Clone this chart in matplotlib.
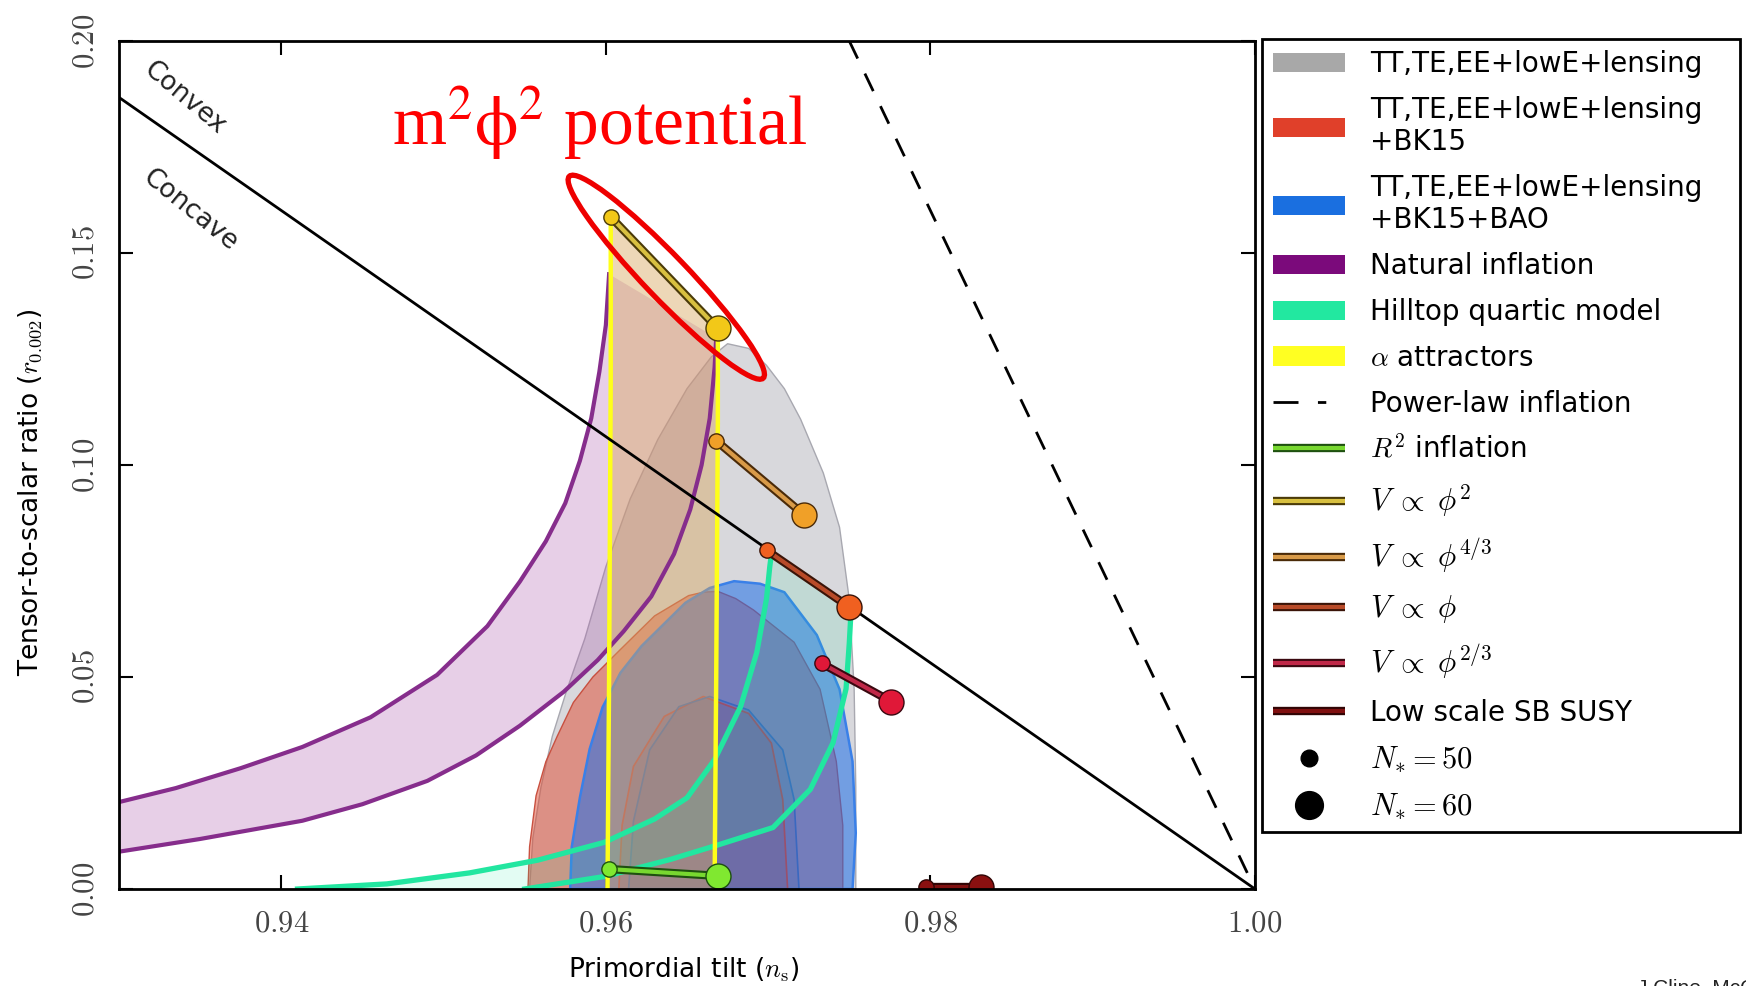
import numpy as np
import matplotlib
matplotlib.use("Agg")
import matplotlib.pyplot as plt
import matplotlib.patheffects as pe
from matplotlib.patches import Patch, Polygon, Ellipse
from matplotlib.lines import Line2D
from matplotlib.colors import to_rgba
from matplotlib.transforms import IdentityTransform

plt.rcParams['font.family'] = ['DejaVu Sans']
plt.rcParams['mathtext.fontset'] = 'cm'

# ------------------------------------------------------------------ data
x_limits = [0.93, 1.00]
y_limits = [0.0, 0.20]
x_ticks = [0.94, 0.96, 0.98, 1.00]
y_ticks = [0.00, 0.05, 0.10, 0.15, 0.20]
x_label = r'Primordial tilt ($n_\mathrm{s}$)'
y_label = r'Tensor-to-scalar ratio ($r_{0.002}$)'

# Planck 2018 contours (outline points, closed along r = 0)
grey95_ns = [0.9553, 0.9555, 0.9560, 0.9567, 0.9576, 0.9587, 0.9600, 0.9615, 0.9632, 0.9650,
             0.9665, 0.9675, 0.9688, 0.9699, 0.9710, 0.9720, 0.9734, 0.9744, 0.9750, 0.9753,
             0.9754, 0.9754]
grey95_r = [0.0000, 0.0120, 0.0240, 0.0360, 0.0470, 0.0590, 0.0760, 0.0920, 0.1060, 0.1180,
            0.1255, 0.1286, 0.1275, 0.1235, 0.1180, 0.1108, 0.0981, 0.0853, 0.0683, 0.0471,
            0.0240, 0.0000]

red95_ns = [0.9552, 0.9553, 0.9557, 0.9563, 0.9570, 0.9580, 0.9592, 0.9609, 0.9630, 0.9651,
            0.9660, 0.9669, 0.9680, 0.9691, 0.9716, 0.9732, 0.9742, 0.9746, 0.9746]
red95_r = [0.0000, 0.0100, 0.0220, 0.0300, 0.0360, 0.0440, 0.0500, 0.0565, 0.0644, 0.0692,
           0.0700, 0.0702, 0.0685, 0.0658, 0.0582, 0.0471, 0.0301, 0.0150, 0.0000]

red68_ns = [0.9608, 0.9610, 0.9617, 0.9636, 0.9660, 0.9688, 0.9702, 0.9709, 0.9712]
red68_r = [0.0000, 0.0150, 0.0289, 0.0407, 0.0454, 0.0414, 0.0344, 0.0211, 0.0000]

blue95_ns = [0.9578, 0.9579, 0.9584, 0.9590, 0.9598, 0.9609, 0.9622, 0.9649, 0.9664, 0.9679,
             0.9695, 0.9710, 0.9730, 0.9744, 0.9752, 0.9754, 0.9752]
blue95_r = [0.0000, 0.0100, 0.0216, 0.0330, 0.0429, 0.0510, 0.0573, 0.0675, 0.0710, 0.0726,
            0.0720, 0.0700, 0.0599, 0.0471, 0.0301, 0.0132, 0.0000]

blue68_ns = [0.9614, 0.9617, 0.9627, 0.9645, 0.9664, 0.9688, 0.9709, 0.9716, 0.9719]
blue68_r = [0.0000, 0.0160, 0.0328, 0.0430, 0.0454, 0.0422, 0.0328, 0.0211, 0.0000]

# Natural inflation (N=50 and N=60 edges)
ni50_ns = [0.9300, 0.9335, 0.9375, 0.9413, 0.9455, 0.9496, 0.9527, 0.9547, 0.9563, 0.9575,
           0.9584, 0.9591, 0.9596, 0.9600, 0.9602]
ni50_r = [0.0205, 0.0238, 0.0285, 0.0335, 0.0405, 0.0505, 0.0620, 0.0725, 0.0820, 0.0910,
          0.1010, 0.1110, 0.1220, 0.1330, 0.1450]
ni60_ns = [0.9300, 0.9350, 0.9413, 0.9450, 0.9490, 0.9520, 0.9547, 0.9574, 0.9595, 0.9611,
           0.9628, 0.9642, 0.9652, 0.9659, 0.9664, 0.9667, 0.9668]
ni60_r = [0.0088, 0.0118, 0.0161, 0.0200, 0.0255, 0.0315, 0.0385, 0.0465, 0.0540, 0.0608,
          0.0690, 0.0790, 0.0895, 0.1000, 0.1110, 0.1230, 0.1300]

# Hilltop quartic (N=50 and N=60)
hill50_ns = [0.9410, 0.9465, 0.9516, 0.9558, 0.9599, 0.9630, 0.9650, 0.9667, 0.9683, 0.9693,
             0.9699, 0.9701, 0.9702]
hill50_r = [0.0000, 0.0012, 0.0038, 0.0068, 0.0110, 0.0165, 0.0215, 0.0305, 0.0430, 0.0558,
            0.0685, 0.0760, 0.0790]
hill60_ns = [0.9550, 0.9600, 0.9640, 0.9670, 0.9703, 0.9726, 0.9740, 0.9748, 0.9750, 0.9751]
hill60_r = [0.0000, 0.0030, 0.0070, 0.0105, 0.0145, 0.0235, 0.0345, 0.0472, 0.0580, 0.0650]

# alpha attractors (N=50 and N=60)
alpha50_ns = [0.9601, 0.9602, 0.9603, 0.9603]
alpha50_r = [0.0000, 0.0500, 0.1200, 0.1585]
alpha60_ns = [0.9667, 0.9668, 0.9669, 0.9669]
alpha60_r = [0.0000, 0.0500, 0.1100, 0.1322]

# boundary lines
convex_ns = [0.93, 1.00]
convex_r = [0.1867, 0.0]
powerlaw_ns = [0.975, 1.00]
powerlaw_r = [0.20, 0.0]

# single-field models: [N*=50, N*=60]
ns_R2 = [0.9602, 0.9669];    r_R2 = [0.0047, 0.0031]
ns_phi2 = [0.9603, 0.9669];  r_phi2 = [0.1585, 0.1322]
ns_phi43 = [0.9668, 0.9722]; r_phi43 = [0.1057, 0.0883]
ns_phi1 = [0.9699, 0.9750];  r_phi1 = [0.0799, 0.0665]
ns_phi23 = [0.9733, 0.9776]; r_phi23 = [0.0532, 0.0442]
ns_susy = [0.9797, 0.9831];  r_susy = [0.0004, 0.0004]

legend_labels = ['TT,TE,EE+lowE+lensing',
                 'TT,TE,EE+lowE+lensing\n+BK15',
                 'TT,TE,EE+lowE+lensing\n+BK15+BAO',
                 'Natural inflation',
                 'Hilltop quartic model',
                 r'$\alpha$ attractors',
                 'Power-law inflation',
                 r'$R^2$ inflation',
                 r'$V\;\propto\;\phi^2$',
                 r'$V\;\propto\;\phi^{4/3}$',
                 r'$V\;\propto\;\phi$',
                 r'$V\;\propto\;\phi^{2/3}$',
                 'Low scale SB SUSY',
                 r'$N_{*}{=}50$',
                 r'$N_{*}{=}60$']

annotation_text = r'm$^2\mathrm{\phi}^2$ potential'
credit_text = 'J.Cline, McGill'

# ------------------------------------------------------------------ figure
W, H = 1746, 986
fig = plt.figure(figsize=(W / 100, H / 100), dpi=100)
ax = fig.add_axes([119 / W, 1 - 889 / H, 1136 / W, 848 / H])
ax.set_xlim(x_limits)
ax.set_ylim(y_limits)


def region(ns, r, face, falpha, edge, lw, z):
    ax.add_patch(Polygon(np.column_stack([ns, r]), closed=True,
                         facecolor=to_rgba(face, falpha), edgecolor=edge,
                         linewidth=lw, zorder=z, joinstyle='round'))


region(grey95_ns, grey95_r, '#8e8e9a', 0.34, '#a8a8b0', 1.0, 1)
region(red95_ns, red95_r, '#e04a30', 0.50, '#c85040', 1.0, 2)
region(blue95_ns, blue95_r, '#1f6fe8', 0.55, '#3a80e8', 1.8, 3)
region(red68_ns, red68_r, '#b03030', 0.15, '#b05060', 1.2, 4)
region(blue68_ns, blue68_r, '#2050b0', 0.15, '#3a68c0', 1.2, 5)

# natural inflation band
ni_poly_ns = list(ni50_ns) + list(ni60_ns)[::-1]
ni_poly_r = list(ni50_r) + list(ni60_r)[::-1]
region(ni_poly_ns, ni_poly_r, '#b060b0', 0.30, 'none', 0, 6)

# alpha attractor band
al_poly_ns = list(alpha50_ns) + list(alpha60_ns)[::-1]
al_poly_r = list(alpha50_r) + list(alpha60_r)[::-1]
region(al_poly_ns, al_poly_r, '#d8a860', 0.45, 'none', 0, 6)

# hilltop band
hl_poly_ns = list(hill50_ns) + list(hill60_ns)[::-1]
hl_poly_r = list(hill50_r) + list(hill60_r)[::-1]
region(hl_poly_ns, hl_poly_r, '#20e8a0', 0.12, 'none', 0, 6)

# curves
ax.plot(ni50_ns, ni50_r, color='#862d8c', lw=3, zorder=7, solid_joinstyle='round')
ax.plot(ni60_ns, ni60_r, color='#862d8c', lw=3, zorder=7, solid_joinstyle='round')
ax.plot(hill50_ns, hill50_r, color='#22e6a0', lw=3.8, zorder=7, solid_joinstyle='round')
ax.plot(hill60_ns, hill60_r, color='#22e6a0', lw=3.8, zorder=7, solid_joinstyle='round')
ax.plot(alpha50_ns, alpha50_r, color='#ffff1a', lw=3.2, zorder=8)
ax.plot(alpha60_ns, alpha60_r, color='#ffff1a', lw=3.2, zorder=8)
ax.plot(convex_ns, convex_r, color='k', lw=2, zorder=9)
ax.plot(powerlaw_ns, powerlaw_r, color='k', lw=2, dashes=(7, 6), zorder=9)

# model segments
model_styles = [
    (ns_R2, r_R2, '#78d830', '#80e830', '#1e5010'),
    (ns_phi2, r_phi2, '#d8c040', '#f2c818', '#4a3a08'),
    (ns_phi43, r_phi43, '#d89a48', '#f0a028', '#4a2a08'),
    (ns_phi1, r_phi1, '#b84a28', '#f06020', '#3a1408'),
    (ns_phi23, r_phi23, '#c02848', '#e01838', '#3a0810'),
    (ns_susy, r_susy, '#801010', '#8a1010', '#300505'),
]
for ns, r, lc, mc, dark in model_styles:
    ax.plot(ns, r, color=lc, lw=3, solid_capstyle='butt', zorder=10,
            path_effects=[pe.Stroke(linewidth=6, foreground=dark), pe.Normal()])
    ax.plot(ns[0], r[0], 'o', ms=11, mfc=mc, mec=dark, mew=1.0, zorder=11)
    ax.plot(ns[1], r[1], 'o', ms=18, mfc=mc, mec=dark, mew=1.0, zorder=11)

# convex / concave labels
ax.text(0.93407, 0.1866, 'Convex', rotation=-40, rotation_mode='anchor',
        ha='center', va='center', fontsize=19, color='#222222', zorder=12)
ax.text(0.93437, 0.1600, 'Concave', rotation=-39, rotation_mode='anchor',
        ha='center', va='center', fontsize=19, color='#222222', zorder=12)

# axes styling
ax.set_xticks(x_ticks)
ax.set_xticklabels([f'${v:.2f}$' for v in x_ticks])
ax.set_yticks(y_ticks)
ax.set_yticklabels([f'${v:.2f}$' for v in y_ticks], rotation=90, va='center')
ax.tick_params(direction='in', length=10, width=1.5, top=True, right=True,
               labelsize=22, pad=14, labelcolor='#444444')
for s in ax.spines.values():
    s.set_linewidth(2)
    s.set_zorder(12)
ax.set_xlabel(x_label, fontsize=19)
ax.set_ylabel(y_label, fontsize=19)
ax.xaxis.set_label_coords(0.497, -0.078)
ax.yaxis.set_label_coords(-0.066, 0.468)

# legend
handles = [
    Patch(fc='#a8a8a8', ec='none'),
    Patch(fc='#e0402a', ec='none'),
    Patch(fc='#1a6fe0', ec='none'),
    Patch(fc='#7b0a7b', ec='none'),
    Patch(fc='#22e8a0', ec='none'),
    Patch(fc='#ffff22', ec='none'),
    Line2D([], [], color='k', lw=2, dashes=(9, 7, 3, 30)),
]
for ns, r, lc, mc, dark in model_styles:
    handles.append(Line2D([], [], color=lc, lw=3, solid_capstyle='butt',
                          path_effects=[pe.Stroke(linewidth=6, foreground=dark), pe.Normal()]))
handles.append(Line2D([], [], ls='none', marker='o', ms=12, color='k'))
handles.append(Line2D([], [], ls='none', marker='o', ms=20, color='k'))

leg = fig.legend(handles, legend_labels, loc='upper left',
                 bbox_to_anchor=(1262 / W, 0.158, 478 / W, 1 - 39 / H - 0.158),
                 mode='expand', fontsize=20, frameon=True, fancybox=False,
                 edgecolor='k', framealpha=1, borderpad=0.4, labelspacing=0.64,
                 handlelength=2.6, handletextpad=0.9, borderaxespad=0)
leg.get_frame().set_linewidth(2)
for i, t in enumerate(leg.get_texts()):
    if i in (8, 9, 10, 11, 13, 14):
        t.set_fontsize(22)

# red annotation
fig.text(392 / W, 1 - 145 / H, annotation_text, color='#ff0000', fontsize=50,
         family='Liberation Serif', math_fontfamily='stix', ha='left', va='baseline')
pts = ax.transData.transform(np.column_stack([ns_phi2, r_phi2]))
vec = pts[1] - pts[0]
dist = np.hypot(*vec)
ang = np.degrees(np.arctan2(vec[1], vec[0]))
center = pts.mean(axis=0) + np.array([2.0, -4.5])
fig.add_artist(Ellipse(center, width=1.81 * dist, height=0.28 * dist, angle=ang,
                       transform=IdentityTransform(), fill=False, edgecolor='#ee0000',
                       linewidth=3.8, zorder=20))

fig.text(1637 / W, 1 - 978 / H, credit_text, fontsize=15, family='Liberation Sans',
         ha='left', va='top', color='#222222')

fig.savefig('out.png', dpi=100)
